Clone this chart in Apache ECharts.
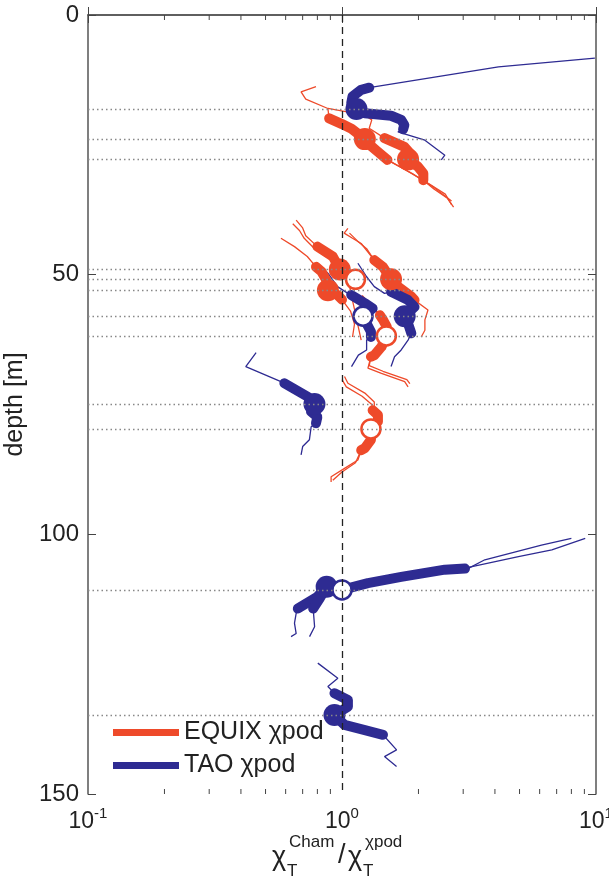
<!DOCTYPE html>
<html>
<head>
<meta charset="utf-8">
<script src="https://cdn.jsdelivr.net/npm/echarts@6/dist/echarts.min.js"></script>
<style>
  html, body { margin: 0; padding: 0; background: #fff; }
  #chart { width: 609px; height: 881px; }
</style>
</head>
<body>
<div id="chart"></div>
<script>
// depths of the chi-pods (dotted lines)
var podDepths = [18.1, 23.9, 27.8, 49.0, 50.9, 53.0, 58.0, 61.8, 74.9, 79.7, 110.7, 134.8];

// x axis ticks (log scale)
var xTickVals = [0.1, 1, 10];
var xTickExp = ['-1', '0', '1'];
var xMinorTicks = [0.2, 0.3, 0.4, 0.5, 0.6, 0.7, 0.8, 0.9, 2, 3, 4, 5, 6, 7, 8, 9];

// EQUIX chipod profiles: [ratio, depth]
var eq24ThinA = [[0.79, 13.8], [0.69, 14.8], [0.72, 16.2], [0.88, 18.0], [0.89, 19.9]];
var eq24Thick = [[0.89, 19.9], [1.0, 21.0], [1.09, 21.9], [1.18, 23.2], [1.23, 23.9], [1.3, 25.2], [1.38, 26.3], [1.51, 27.9]];
var eq24ThinB = [[1.51, 27.9], [1.8, 30.0], [2.2, 32.5], [2.55, 34.5], [2.7, 36.5]];
var eq24ThinB2 = [[1.51, 27.9], [1.9, 30.6], [2.3, 33.2], [2.7, 35.8]];

var eq28ThinA = [[0.88, 18.0], [1.23, 19.3], [1.31, 20.2], [1.28, 21.8], [1.47, 23.7]];
var eq28Thick = [[1.47, 23.7], [1.76, 25.4], [1.85, 26.6], [1.82, 27.8], [1.99, 29.2], [2.09, 30.5], [2.09, 31.8]];
var eq28ThinB = [[2.09, 31.8], [2.3, 33.5], [2.6, 35.3], [2.75, 37.0]];

var eq49ThinA = [[0.66, 39.5], [0.7, 41.0], [0.72, 42.5], [0.8, 44.6]];
var eq49ThinA2 = [[0.64, 40.2], [0.68, 41.5], [0.71, 43.0], [0.78, 45.0]];
var eq49Thick = [[0.8, 44.6], [0.92, 46.5], [0.98, 49.0], [1.05, 50.0]];
var eq49ThinB = [[1.05, 50.0], [1.07, 52.0], [1.1, 55.0], [1.13, 57.5], [1.155, 59.7], [1.19, 62.6]];

var eq53ThinA = [[0.575, 43.0], [0.65, 44.6], [0.73, 46.5], [0.79, 48.5]];
var eq53Thick = [[0.79, 48.5], [0.83, 49.4], [0.866, 51.0], [0.88, 53.0], [0.96, 53.9], [1.0, 54.8]];
var eq53ThinB = [[1.0, 54.8], [1.08, 57.0], [1.12, 59.5], [1.1, 62.0]];

var eq51ThinA = [[1.055, 41.1], [1.02, 42.0], [1.1, 43.0], [1.19, 44.0], [1.34, 47.2]];
var eq51ThinA2 = [[1.07, 42.0], [1.15, 43.5], [1.25, 45.0], [1.34, 47.2]];
var eq51Thick = [[1.34, 47.2], [1.45, 48.5], [1.56, 50.9], [1.66, 52.3], [1.875, 54.2], [1.93, 54.9]];
var eq51ThinB = [[1.93, 54.9], [2.18, 56.8], [2.12, 58.7], [2.12, 60.7], [2.05, 62.0]];

var eq62ThinA = [[1.2, 54.0], [1.3, 55.8], [1.41, 57.8]];
var eq62Thick = [[1.41, 57.8], [1.45, 58.7], [1.5, 60.0], [1.495, 61.8], [1.43, 63.9], [1.34, 65.5], [1.3, 65.8]];
var eq62ThinB = [[1.3, 65.8], [1.265, 68.0], [1.43, 69.0], [1.765, 70.6], [1.82, 71.6]];
var eq62ThinB2 = [[1.3, 65.8], [1.28, 67.5], [1.45, 68.6], [1.8, 70.2], [1.85, 71.0]];

var eq80ThinA = [[1.023, 69.6], [1.055, 70.9], [1.23, 72.8], [1.34, 74.5], [1.34, 75.4], [1.32, 76.1]];
var eq80ThinA2 = [[1.0, 70.2], [1.04, 71.6], [1.2, 73.4], [1.31, 75.0], [1.32, 76.1]];
var eq80Thick = [[1.32, 76.1], [1.385, 77.0], [1.385, 78.3], [1.3, 79.7], [1.3, 81.8], [1.23, 83.4], [1.19, 83.8]];
var eq80ThinB = [[1.19, 83.8], [1.155, 85.7], [1.023, 87.3], [0.906, 88.9], [0.906, 89.9]];
var eq80ThinB2 = [[1.19, 83.8], [1.13, 86.2], [1.0, 88.0], [0.92, 89.6]];

// TAO chipod profiles
var tao18ThinA = [[9.9, 8.3], [4.13, 10.0], [1.28, 14.0]];
var tao18Thick = [[1.28, 14.0], [1.19, 14.4], [1.1, 15.7], [1.087, 17.0], [1.14, 18.1], [1.23, 18.9], [1.56, 19.4], [1.71, 20.2], [1.76, 21.2], [1.74, 22.0]];
var tao18ThinB = [[1.74, 22.0], [1.66, 22.5], [2.12, 24.1], [2.54, 27.0], [2.46, 27.9]];

var tao58aThinA = [[0.8, 47.8], [0.88, 49.7], [0.96, 52.3], [1.055, 53.6], [1.087, 53.9]];
var tao58aThick = [[1.087, 53.9], [1.23, 55.5], [1.32, 56.5], [1.21, 58.0], [1.25, 59.4], [1.3, 61.0], [1.3, 62.0]];
var tao58aThinB = [[1.3, 62.0], [1.25, 62.6], [1.25, 64.5], [1.16, 65.5], [1.09, 67.7]];

var tao58bThinA = [[1.155, 47.8], [1.25, 50.4], [1.34, 52.3], [1.47, 53.6], [1.56, 53.3]];
var tao58bThick = [[1.56, 53.3], [1.82, 54.9], [1.93, 56.2], [1.765, 58.0], [1.82, 59.4], [1.875, 61.3]];
var tao58bThinB = [[1.875, 61.3], [1.82, 62.6], [1.71, 64.5], [1.61, 65.8], [1.56, 67.7]];

var tao75ThinA = [[0.459, 65.0], [0.418, 67.7], [0.575, 70.6], [0.593, 70.9]];
var tao75Thick = [[0.593, 70.9], [0.733, 73.5], [0.779, 74.9], [0.756, 76.4], [0.8, 77.4], [0.79, 78.6]];
var tao75ThinB = [[0.79, 78.6], [0.756, 79.3], [0.744, 81.8], [0.7, 83.1], [0.69, 84.7]];

var tao110ThinA1 = [[9.07, 100.8], [6.7, 103.0], [4.95, 104.3], [3.05, 106.5]];
var tao110ThinA2 = [[8.0, 100.8], [6.1, 102.1], [3.65, 104.9], [3.05, 106.9]];
var tao110Thick1 = [[3.05, 106.6], [2.54, 106.8], [1.71, 108.2], [1.265, 109.4], [1.0, 110.7], [0.87, 110.1], [0.8, 112.0], [0.67, 114.3]];
var tao110Thick2 = [[0.87, 110.1], [0.82, 112.2], [0.77, 114.3]];
var tao110ThinB1 = [[0.67, 114.3], [0.66, 115.2], [0.65, 117.1], [0.66, 119.1], [0.63, 119.7]];
var tao110ThinB2 = [[0.77, 114.3], [0.78, 117.8], [0.745, 119.7]];

var tao135ThinA = [[0.803, 124.8], [0.963, 127.7], [0.88, 129.3], [0.934, 130.6]];
var tao135Thick = [[0.934, 130.6], [1.055, 131.9], [1.055, 133.2], [0.934, 134.8], [1.023, 136.7], [1.23, 137.7], [1.45, 138.6]];
var tao135ThinB = [[1.45, 138.6], [1.64, 141.5], [1.47, 142.8], [1.64, 144.7]];

// circles at the pod depths
var equixFilled = [[1.23, 23.9], [1.82, 27.8], [0.98, 49.0], [1.56, 50.9], [0.88, 53.0]];
var equixOpen = [[1.13, 50.9], [1.495, 61.8], [1.3, 79.7]];
var taoFilled = [[1.14, 18.1], [1.765, 58.0], [0.779, 74.9], [0.87, 110.1], [0.934, 134.8]];
var taoOpen = [[1.21, 58.0], [1.0, 110.7]];

var RED = '#ee4a2a';
var BLUE = '#2e2b92';
var EQ = 'EQUIX χpod';
var TAO = 'TAO χpod';
var FONT = 'Liberation Sans, Arial, sans-serif';

function thick(name, color, data) {
  return { name: name, type: 'line', data: data, showSymbol: false, symbol: 'none', color: color,
    lineStyle: { width: 10, color: color, cap: 'round', join: 'round' }, z: 3, silent: true };
}
function thin(name, color, data) {
  return { name: name, type: 'line', data: data, showSymbol: false, symbol: 'none', color: color,
    lineStyle: { width: 1.3, color: color }, z: 2, silent: true };
}
function dots(name, color, data, open) {
  return { name: name, type: 'scatter', data: data, symbolSize: open ? 19 : 22, z: 4, silent: true,
    itemStyle: open ? { color: '#fff', borderColor: color, borderWidth: 2.5, opacity: 1 }
                    : { color: color, opacity: 1 } };
}

var series = [
  thick(EQ, RED, eq24Thick), thick(TAO, BLUE, tao18Thick),
  thin(EQ, RED, eq24ThinA), thin(EQ, RED, eq24ThinB), thin(EQ, RED, eq24ThinB2),
  thin(EQ, RED, eq28ThinA), thick(EQ, RED, eq28Thick), thin(EQ, RED, eq28ThinB),
  thin(EQ, RED, eq49ThinA), thin(EQ, RED, eq49ThinA2), thick(EQ, RED, eq49Thick), thin(EQ, RED, eq49ThinB),
  thin(EQ, RED, eq53ThinA), thick(EQ, RED, eq53Thick), thin(EQ, RED, eq53ThinB),
  thin(EQ, RED, eq51ThinA), thin(EQ, RED, eq51ThinA2), thick(EQ, RED, eq51Thick), thin(EQ, RED, eq51ThinB),
  thin(EQ, RED, eq62ThinA), thick(EQ, RED, eq62Thick), thin(EQ, RED, eq62ThinB), thin(EQ, RED, eq62ThinB2),
  thin(EQ, RED, eq80ThinA), thin(EQ, RED, eq80ThinA2), thick(EQ, RED, eq80Thick),
  thin(EQ, RED, eq80ThinB), thin(EQ, RED, eq80ThinB2),
  thin(TAO, BLUE, tao18ThinA), thin(TAO, BLUE, tao18ThinB),
  thin(TAO, BLUE, tao58aThinA), thick(TAO, BLUE, tao58aThick), thin(TAO, BLUE, tao58aThinB),
  thin(TAO, BLUE, tao58bThinA), thick(TAO, BLUE, tao58bThick), thin(TAO, BLUE, tao58bThinB),
  thin(TAO, BLUE, tao75ThinA), thick(TAO, BLUE, tao75Thick), thin(TAO, BLUE, tao75ThinB),
  thin(TAO, BLUE, tao110ThinA1), thin(TAO, BLUE, tao110ThinA2),
  thick(TAO, BLUE, tao110Thick1), thick(TAO, BLUE, tao110Thick2),
  thin(TAO, BLUE, tao110ThinB1), thin(TAO, BLUE, tao110ThinB2),
  thin(TAO, BLUE, tao135ThinA), thick(TAO, BLUE, tao135Thick), thin(TAO, BLUE, tao135ThinB),
  dots(EQ, RED, equixFilled, false), dots(TAO, BLUE, taoFilled, false),
  dots(EQ, RED, equixOpen, true), dots(TAO, BLUE, taoOpen, true),
  // reference lines drawn on top
  { type: 'line', data: [], z: 10, silent: true,
    markLine: { silent: true, symbol: ['none', 'none'], label: { show: false },
      data: podDepths.map(function (d) {
        return { yAxis: d, lineStyle: { type: [1.5, 3], color: '#888', width: 1.3 } };
      }).concat([{ xAxis: 1, lineStyle: { type: [7, 5], color: '#222', width: 1.3 } }]) } },
  // minor log ticks, bottom and top
  { type: 'custom', silent: true, z: 10, data: xMinorTicks.map(function (v) { return [v, 0]; }),
    encode: { x: 0, y: 1 },
    renderItem: function (params, api) {
      var cs = params.coordSys;
      var px = api.coord([api.value(0), 0])[0];
      var top = cs.y, bot = cs.y + cs.height;
      return { type: 'group', children: [
        { type: 'line', shape: { x1: px, y1: bot, x2: px, y2: bot - 5 }, style: { stroke: '#444', lineWidth: 1 } },
        { type: 'line', shape: { x1: px, y1: top, x2: px, y2: top + 5 }, style: { stroke: '#444', lineWidth: 1 } }
      ] };
    } }
];

var axisLine = { show: true, lineStyle: { color: '#555', width: 1.5 } };
var tick = { show: true, inside: true, length: 8, lineStyle: { color: '#444', width: 1 } };

var myChart = echarts.init(document.getElementById('chart'));
myChart.setOption({
  animation: false,
  backgroundColor: '#fff',
  grid: { left: 88, top: 15, right: 13, bottom: 87, containLabel: false, outerBoundsMode: 'none' },
  legend: {
    data: [EQ, TAO], orient: 'vertical', left: 108, top: 715, icon: 'rect',
    itemWidth: 66, itemHeight: 7, itemGap: 8, selectedMode: false,
    textStyle: { fontSize: 25, color: '#222', fontFamily: FONT }
  },
  xAxis: [
    { type: 'log', logBase: 10, min: 0.1, max: 10, position: 'bottom',
      axisLine: axisLine, axisTick: tick, splitLine: { show: false },
      axisLabel: { margin: 12, color: '#222', fontFamily: FONT,
        formatter: function (v) {
          var i = xTickVals.findIndex(function (t) { return Math.abs(t - v) < 1e-9; });
          return '{b|10}{s|' + xTickExp[i] + '}';
        },
        rich: { b: { fontSize: 23, fontFamily: FONT, color: '#222' },
                s: { fontSize: 15, fontFamily: FONT, color: '#222', padding: [0, 0, 16, 0] } } } },
    { type: 'log', logBase: 10, min: 0.1, max: 10, position: 'top',
      axisLine: axisLine, axisTick: tick, axisLabel: { show: false }, splitLine: { show: false } }
  ],
  yAxis: [
    { type: 'value', inverse: true, min: 0, max: 150, interval: 50, position: 'left',
      name: 'depth [m]', nameLocation: 'middle', nameGap: 56, nameRotate: 90,
      nameTextStyle: { fontSize: 25, color: '#222', fontFamily: FONT },
      axisLine: axisLine, axisTick: tick, splitLine: { show: false },
      axisLabel: { fontSize: 24, color: '#222', fontFamily: FONT, margin: 9 } },
    { type: 'value', inverse: true, min: 0, max: 150, interval: 50, position: 'right',
      axisLine: axisLine, axisTick: tick, axisLabel: { show: false }, splitLine: { show: false } }
  ],
  graphic: [
    { type: 'group', left: 272, top: 834, children: [
      { type: 'text', x: 0, y: 10, style: { text: 'χ', fontSize: 27, fontFamily: FONT, fill: '#222' } },
      { type: 'text', x: 15, y: 29, style: { text: 'T', fontSize: 17, fontFamily: FONT, fill: '#222' } },
      { type: 'text', x: 17, y: 0, style: { text: 'Cham', fontSize: 17, fontFamily: FONT, fill: '#222' } },
      { type: 'text', x: 66, y: 8, style: { text: '/', fontSize: 27, fontFamily: FONT, fill: '#222' } },
      { type: 'text', x: 76, y: 10, style: { text: 'χ', fontSize: 27, fontFamily: FONT, fill: '#222' } },
      { type: 'text', x: 91, y: 29, style: { text: 'T', fontSize: 17, fontFamily: FONT, fill: '#222' } },
      { type: 'text', x: 93, y: 0, style: { text: 'χpod', fontSize: 17, fontFamily: FONT, fill: '#222' } }
    ] }
  ],
  series: series
});
</script>
</body>
</html>
